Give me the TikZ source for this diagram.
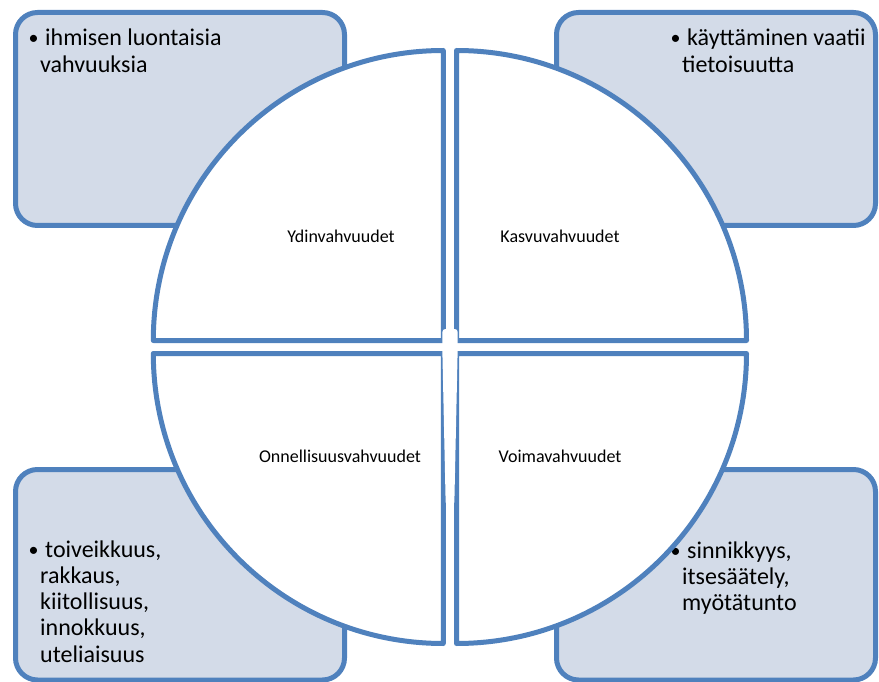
\documentclass[tikz,border=0pt]{standalone}
\usepackage{fontspec}
\setmainfont{Carlito}
\definecolor{accblue}{HTML}{4F81BD}
\definecolor{boxfill}{HTML}{D3DBE8}
\tikzset{
  infobox/.style={draw=accblue, fill=boxfill, line width=5pt, rounded corners=22pt},
  quad/.style={draw=accblue, fill=white, line width=5pt, line join=round},
  boxtext/.style={font=\fontsize{24}{26.3}\selectfont, inner sep=0pt, anchor=base west},
  qlabel/.style={font=\fontsize{18}{22}\selectfont, inner sep=0pt, anchor=base}
}
\newcommand{\bul}{\makebox[15pt][l]{\hspace*{-1.5pt}\raisebox{1pt}{\fontsize{20}{20}\selectfont •}}}
\newcommand{\cont}{\hspace*{10pt}}
\begin{document}
\begin{tikzpicture}[x=1pt,y=-1pt]
\useasboundingbox (0,0) rectangle (879,682);
% boxes
\path[infobox] (15.5,12.5) rectangle (344.5,225.5);
\path[infobox] (556.5,12.5) rectangle (875.5,225.5);
\path[infobox] (15.5,469.5) rectangle (344.5,680);
\path[infobox] (556.5,469.5) rectangle (875.5,680);
% box texts
\node[boxtext] (tltext) at (30,46) {\begin{tabular}[t]{@{}l@{}}\bul ihmisen luontaisia\\\cont vahvuuksia\end{tabular}};
\node[boxtext] (trtext) at (672,46) {\begin{tabular}[t]{@{}l@{}}\bul käyttäminen vaatii\\\cont tietoisuutta\end{tabular}};
\node[boxtext] (bltext) at (30,557) {\begin{tabular}[t]{@{}l@{}}\bul toiveikkuus,\\\cont rakkaus,\\\cont kiitollisuus,\\\cont innokkuus,\\\cont uteliaisuus\end{tabular}};
\node[boxtext] (brtext) at (672,558) {\begin{tabular}[t]{@{}l@{}}\bul sinnikkyys,\\\cont itsesäätely,\\\cont myötätunto\end{tabular}};
% quadrants
\path[quad] (443.3,340.5) -- (153.3,340.5) arc[start angle=180,end angle=270,radius=290] -- cycle;
\path[quad] (456.5,340.5) -- (456.5,50.5) arc[start angle=270,end angle=360,radius=290] -- cycle;
\path[quad] (443.3,353.5) -- (153.3,353.5) arc[start angle=180,end angle=90,radius=290] -- cycle;
\path[quad] (456.5,353.5) -- (746.5,353.5) arc[start angle=0,end angle=90,radius=290] -- cycle;
% central white wedge
\fill[white, rounded corners=3pt] (442.4,329) -- (457.7,329) -- (457.6,353) -- (454.3,505) -- (445.7,505) -- (442.4,353) -- cycle;
% labels
\node[qlabel] (ydin) at (341,243) {Ydinvahvuudet};
\node[qlabel] (kasvu) at (560,243) {Kasvuvahvuudet};
\node[qlabel] (onni) at (340,462) {Onnellisuusvahvuudet};
\node[qlabel] (voima) at (560,462) {Voimavahvuudet};
\end{tikzpicture}
\end{document}
